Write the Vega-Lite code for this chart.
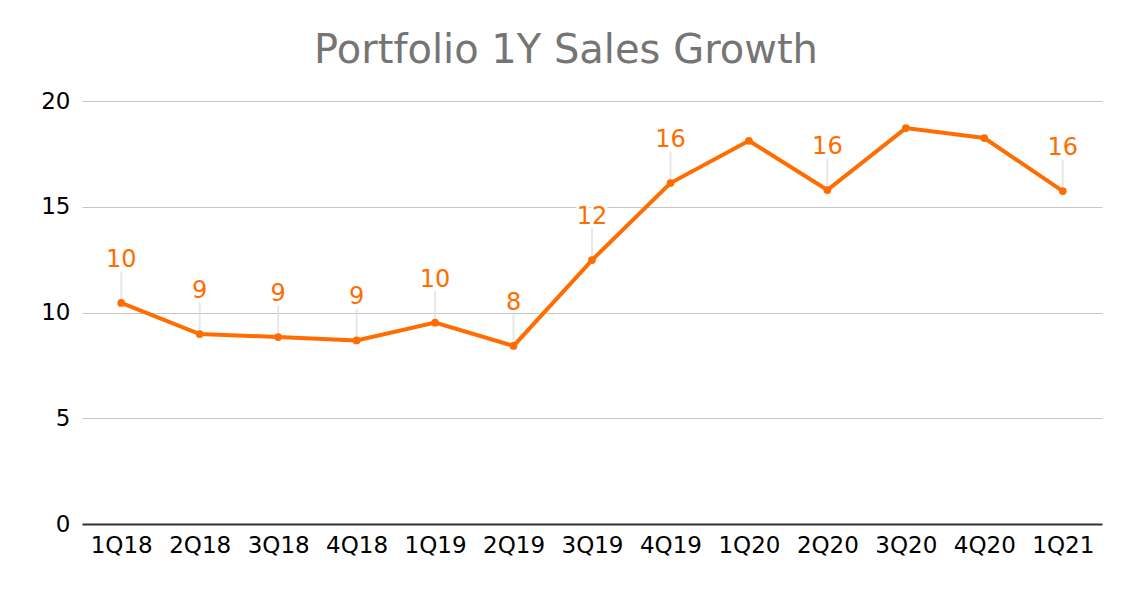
{
  "$schema": "https://vega.github.io/schema/vega-lite/v6.json",
  "width": 1020,
  "height": 423,
  "autosize": {"type": "none"},
  "padding": {"left": 82, "top": 101, "right": 30, "bottom": 66},
  "background": "white",
  "view": {"stroke": null},
  "title": {
    "text": "Portfolio 1Y Sales Growth",
    "font": "DejaVu Sans",
    "fontSize": 40,
    "fontWeight": "normal",
    "color": "#757575",
    "anchor": "middle",
    "dx": -26,
    "offset": 19
  },
  "data": {
    "values": [
      {"quarter": "1Q18", "growth": 10.45, "label": "10"},
      {"quarter": "2Q18", "growth": 8.98, "label": "9"},
      {"quarter": "3Q18", "growth": 8.84, "label": "9"},
      {"quarter": "4Q18", "growth": 8.68, "label": "9"},
      {"quarter": "1Q19", "growth": 9.52, "label": "10"},
      {"quarter": "2Q19", "growth": 8.42, "label": "8"},
      {"quarter": "3Q19", "growth": 12.48, "label": "12"},
      {"quarter": "4Q19", "growth": 16.12, "label": "16"},
      {"quarter": "1Q20", "growth": 18.12, "label": null},
      {"quarter": "2Q20", "growth": 15.79, "label": "16"},
      {"quarter": "3Q20", "growth": 18.72, "label": null},
      {"quarter": "4Q20", "growth": 18.25, "label": null},
      {"quarter": "1Q21", "growth": 15.74, "label": "16"}
    ]
  },
  "encoding": {
    "x": {
      "field": "quarter",
      "type": "ordinal",
      "sort": ["1Q18", "2Q18", "3Q18", "4Q18", "1Q19", "2Q19", "3Q19", "4Q19", "1Q20", "2Q20", "3Q20", "4Q20", "1Q21"],
      "scale": {"type": "point", "padding": 0.5},
      "axis": {
        "title": null,
        "labelAngle": 0,
        "labelFont": "DejaVu Sans",
        "labelFontSize": 23,
        "labelColor": "#000000",
        "labelPadding": 10,
        "ticks": false,
        "grid": false,
        "domainColor": "#333333",
        "domainWidth": 2
      }
    },
    "y": {
      "field": "growth",
      "type": "quantitative",
      "scale": {"domain": [0, 20]},
      "axis": {
        "title": null,
        "values": [0, 5, 10, 15, 20],
        "labelFont": "DejaVu Sans",
        "labelFontSize": 23,
        "labelColor": "#000000",
        "labelPadding": 12,
        "ticks": false,
        "domain": false,
        "gridColor": "#c6c6c6",
        "gridWidth": 1
      }
    }
  },
  "layer": [
    {
      "transform": [{"filter": "datum.label != null"}],
      "mark": {"type": "tick", "orient": "vertical", "size": 31, "thickness": 2, "color": "#dddddd", "yOffset": -16}
    },
    {
      "mark": {"type": "line", "color": "#ff6d01", "strokeWidth": 4, "point": {"filled": true, "size": 60, "color": "#ff6d01"}}
    },
    {
      "transform": [{"filter": "datum.label != null"}],
      "mark": {"type": "text", "font": "DejaVu Sans", "fontSize": 24, "color": "white", "stroke": "white", "strokeWidth": 6, "baseline": "alphabetic", "dy": -36},
      "encoding": {"text": {"field": "label"}}
    },
    {
      "transform": [{"filter": "datum.label != null"}],
      "mark": {"type": "text", "font": "DejaVu Sans", "fontSize": 24, "color": "#ff6d01", "baseline": "alphabetic", "dy": -36},
      "encoding": {"text": {"field": "label"}}
    }
  ]
}
